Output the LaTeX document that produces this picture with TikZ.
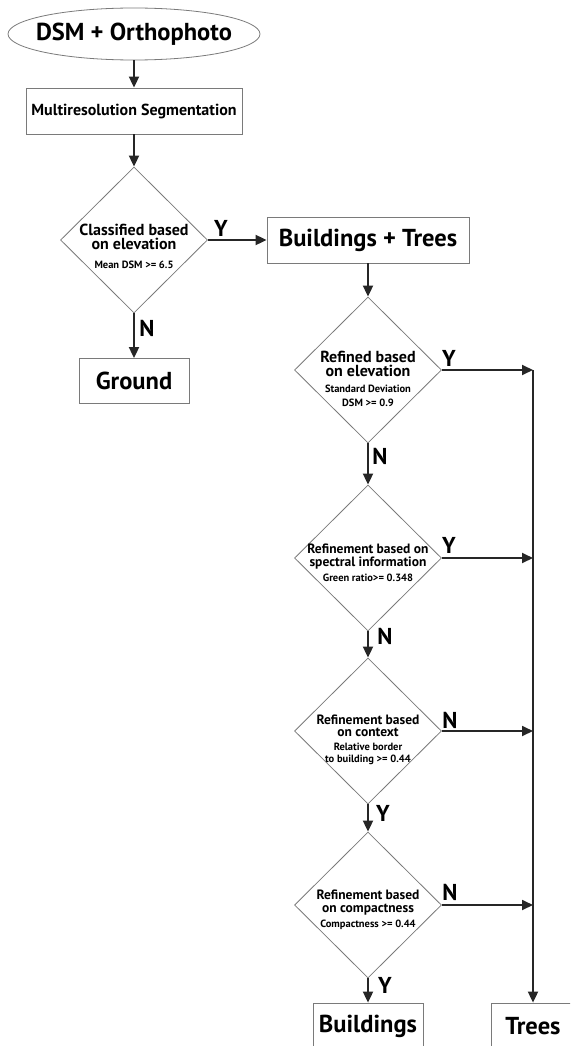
\documentclass[tikz,border=0pt]{standalone}
\usepackage{fontspec}
\setmainfont{PT Sans}
\usepackage{tikz}
\usetikzlibrary{shapes.geometric,arrows.meta,positioning}
\definecolor{edgegray}{HTML}{7A7A7A}
\definecolor{arrowdark}{HTML}{262626}
\tikzstyle{block} = [rectangle, draw=edgegray, line width=0.8pt, fill=white,
	inner sep=0pt, text centered, font=\bfseries\fontsize{24.5}{24}\selectfont]
\tikzstyle{decision} = [diamond, draw=edgegray, line width=0.8pt, aspect=1,
	inner sep=0pt, minimum width=147pt, minimum height=146pt]
\tikzstyle{source} = [ellipse, draw=edgegray, line width=0.8pt, inner sep=0pt,
	minimum width=252pt, minimum height=52pt]
\tikzstyle{dtext} = [align=center, inner sep=0pt, font=\bfseries\fontsize{16}{14.5}\selectfont]
\tikzstyle{rtext} = [align=center, inner sep=0pt, font=\bfseries\fontsize{13.5}{12.5}\selectfont]
\tikzstyle{answer} = [inner sep=0pt, font=\bfseries\fontsize{23}{23}\selectfont]
\tikzstyle{flow} = [draw=arrowdark, line width=1.8pt, -{Triangle[length=11pt,width=10pt]}]
\newcommand{\dcond}{\fontsize{10.5}{9.5}\selectfont}

\begin{document}
\begin{tikzpicture}[x=1pt, y=-1pt]
	\clip (0,0) rectangle (570,1046);

	% input and segmentation
	\node[source] (src) at (134,34) {};
	\node[inner sep=0pt, font=\bfseries\fontsize{24.5}{24}\selectfont] (srctxt) at (src.center) {DSM + Orthophoto};
	\node[block, minimum width=216pt, minimum height=46pt, font=\bfseries\fontsize{16}{16}\selectfont] (seg) at (134,111) {Multiresolution Segmentation};

	% first classification
	\node[decision] (elev) at (134,240) {};
	\node[dtext] (elevtxt) at ([yshift=-6pt]elev.center) {Classified based\\ on elevation\\[4pt] \dcond Mean DSM >= 6.5};
	\node[block, minimum width=202pt, minimum height=46pt] (bt) at (368,240) {Buildings + Trees};
	\node[block, minimum width=110pt, minimum height=45pt] (ground) at (134,381) {Ground};

	% refinement chain
	\node[decision] (sdev) at (368,370) {};
	\node[dtext] (sdevtxt) at ([yshift=-9pt]sdev.center) {Refined based\\ on elevation\\[1pt] \dcond Standard Deviation\\ \dcond DSM >= 0.9};
	\node[decision] (spec) at (368,558) {};
	\node[rtext] (spectxt) at ([yshift=-5pt]spec.center) {Refinement based on\\ spectral information\\[3pt] \dcond Green ratio>= 0.348};
	\node[decision] (ctx) at (368,731) {};
	\node[rtext] (ctxtxt) at ([yshift=-9pt]ctx.center) {Refinement based\\ on context\\[1pt] \dcond Relative border\\ \dcond to building >= 0.44};
	\node[decision] (comp) at (368,905) {};
	\node[rtext] (comptxt) at ([yshift=-5pt]comp.center) {Refinement based\\ on compactness\\[3pt] \dcond Compactness >= 0.44};

	% results
	\node[block, minimum width=110pt, minimum height=46pt] (bldg) at (368,1026) {Buildings};
	\node[block, minimum width=84pt, minimum height=46pt] (trees) at (533,1026) {Trees};

	% answers
	\node[answer] (elevY) at ([xshift=13pt, yshift=12pt]elev.east) {Y};
	\node[answer] (elevN) at ([xshift=13pt, yshift=-15pt]elev.south) {N};
	\node[answer] (sdevY) at ([xshift=7pt, yshift=12pt]sdev.east) {Y};
	\node[answer] (sdevN) at ([xshift=12pt, yshift=-13pt]sdev.south) {N};
	\node[answer] (specY) at ([xshift=7pt, yshift=13pt]spec.east) {Y};
	\node[answer] (specN) at ([xshift=17pt, yshift=-5pt]spec.south) {N};
	\node[answer] (ctxN) at ([xshift=8pt, yshift=11pt]ctx.east) {N};
	\node[answer] (ctxY) at ([xshift=15pt, yshift=-9pt]ctx.south) {Y};
	\node[answer] (compN) at ([xshift=8pt, yshift=13pt]comp.east) {N};
	\node[answer] (compY) at ([xshift=17pt, yshift=-7pt]comp.south) {Y};

	% connectors
	\draw[flow] (src) -- (seg);
	\draw[flow] (seg) -- (elev);
	\draw[flow] (elev) -- (bt);
	\draw[flow] (elev) -- (ground);
	\draw[flow] (bt) -- (sdev);
	\draw[flow] (sdev) -- (spec);
	\draw[flow] (spec) -- (ctx);
	\draw[flow] (ctx) -- (comp);
	\draw[flow] (comp) -- (bldg);
	\foreach \d in {sdev, spec, ctx, comp}
		\draw[flow] (\d.east) -- (\d.east -| trees.north);
	\draw[flow] (sdev.east -| trees.north) -- (trees.north);
\end{tikzpicture}
\end{document}
